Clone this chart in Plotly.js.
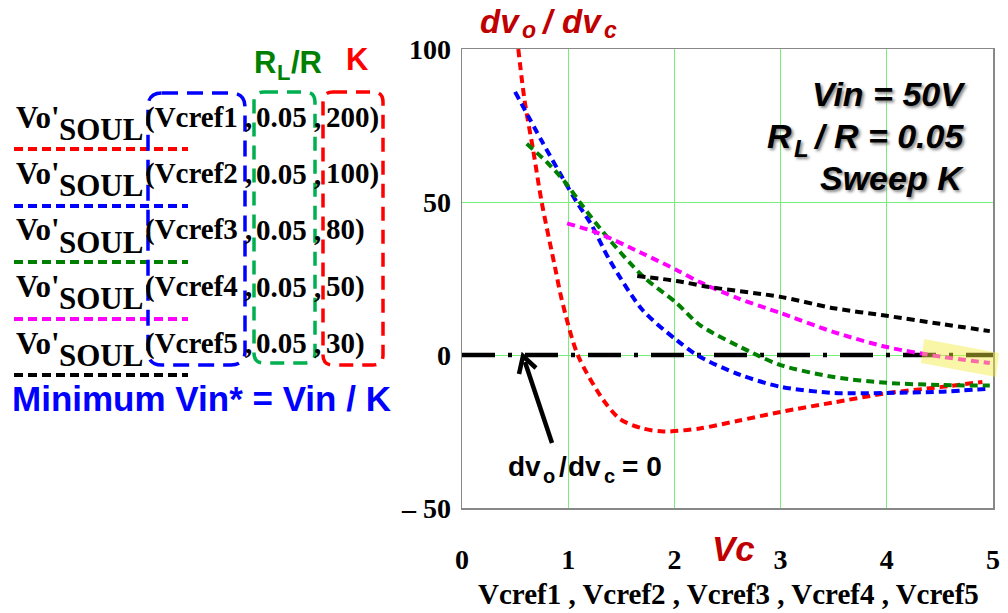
<!DOCTYPE html>
<html><head><meta charset="utf-8">
<script src="https://cdn.plot.ly/plotly-3.0.1.min.js"></script>
<style>body{margin:0;background:#fff}</style>
</head><body><div id="chart" style="width:1008px;height:613px"></div>
<script>
// ---- data ----
const kValues = ["200", "100", "80", "50", "30"];
const vcrefNames = ["Vcref1", "Vcref2", "Vcref3", "Vcref4", "Vcref5"];
const rlRatio = "0.05";
const seriesColors = ["#ff0000", "#0000ff", "#008000", "#ff00ff", "#000000"];

const xK200 = [0.53, 0.59, 0.67, 0.75, 0.875, 0.94, 1.09, 1.33, 1.49, 1.7, 1.9, 2.24, 2.6, 3.0, 3.5, 4.0, 4.5, 4.9];
const yK200 = [100, 83, 67, 50, 28.8, 18, 0, -14.7, -21, -24, -25, -24, -21.5, -18.6, -15.5, -12.5, -10.5, -8.8];
const xK100 = [0.5, 0.75, 0.97, 1.08, 1.22, 1.39, 1.7, 2.02, 2.24, 2.62, 3.0, 3.5, 4.0, 4.5, 4.97];
const yK100 = [86, 70, 56.5, 50, 42.5, 31, 14.7, 4.9, -0.6, -6.5, -10.4, -12.4, -12.4, -12, -11];
const xK80 = [0.61, 0.8, 0.97, 1.14, 1.39, 1.71, 2.02, 2.24, 2.74, 3.0, 3.5, 4.0, 4.5, 4.97];
const yK80 = [69, 63, 56.5, 48.5, 37.6, 25.5, 17, 9.8, 0.6, -3.3, -7.2, -9.1, -9.8, -10];
const xK50 = [0.99, 1.27, 1.71, 2.02, 2.24, 2.6, 3.0, 3.5, 4.0, 4.5, 4.97];
const yK50 = [43, 40, 33, 27.8, 23.8, 18.5, 13.7, 7.5, 2.6, -0.5, -2.6];
const xK30 = [1.65, 2.02, 2.33, 3.0, 3.5, 4.0, 4.5, 4.97];
const yK30 = [25.8, 24.2, 22.2, 19, 15.3, 12.8, 10.2, 7.8];

const zeroLineX = [0, 5];
const zeroLineY = [0, 0];

const xTickVals = [0, 1, 2, 3, 4, 5];
const xTickText = ["0", "1", "2", "3", "4", "5"];
const yTickVals = [-50, 0, 50, 100];
const yTickText = ["– 50", "0", "50", "100"];

// ---- helpers (layout geometry) ----
const L = 462, R = 993, T = 49, B = 508;
const px = v => (v - L) / (R - L);
const py = v => (B - v) / (B - T);
function roundRect(x0, y0, x1, y1, r) {
  const P = (x, y) => px(x) + ',' + py(y);
  return 'M' + P(x0 + r, y0) + ' L' + P(x1 - r, y0) + ' Q' + P(x1, y0) + ' ' + P(x1, y0 + r) +
    ' L' + P(x1, y1 - r) + ' Q' + P(x1, y1) + ' ' + P(x1 - r, y1) +
    ' L' + P(x0 + r, y1) + ' Q' + P(x0, y1) + ' ' + P(x0, y1 - r) +
    ' L' + P(x0, y0 + r) + ' Q' + P(x0, y0) + ' ' + P(x0 + r, y0) + ' Z';
}

const serif = "Liberation Serif, Times New Roman, serif";
const sans = "Liberation Sans, Arial, sans-serif";

const xs = [xK200, xK100, xK80, xK50, xK30];
const ys = [yK200, yK100, yK80, yK50, yK30];

const traces = [{
  x: zeroLineX, y: zeroLineY, mode: 'lines', hoverinfo: 'skip',
  line: {color: '#000', width: 4.5, dash: '33px,13px,4px,13px'}
}];
for (let i = 0; i < 5; i++) {
  traces.push({
    x: xs[i], y: ys[i], mode: 'lines', name: 'K=' + kValues[i],
    line: {color: seriesColors[i], width: 4, dash: '8px,5px', shape: 'spline', smoothing: 0.8}
  });
}

const annotations = [];
const shapes = [];
const rowY = [117, 173.5, 230, 286.5, 343];
const lineY = [149, 206, 262, 319, 375];
function ann(text, x, y, size, opts) {
  annotations.push(Object.assign({
    text: text, xref: 'paper', yref: 'paper', x: px(x), y: py(y),
    xanchor: 'left', yanchor: 'middle', showarrow: false,
    font: {family: serif, size: size, color: '#000', weight: 'bold'}
  }, opts || {}));
}
const F = (family, size, color, extra) => Object.assign({family: family, size: size, color: color, weight: 'bold'}, extra || {});

for (let i = 0; i < 5; i++) {
  ann("Vo'", 14, rowY[i], 31);
  ann("SOUL", 57, rowY[i] + 12, 31);
  ann("(" + vcrefNames[i] + " ,", 143, rowY[i], 29);
  ann(rlRatio + " ,", 254, rowY[i], 29);
  ann(kValues[i] + ")", 324, rowY[i], 29);
  shapes.push({type: 'line', xref: 'paper', yref: 'paper', x0: px(14), x1: px(188), y0: py(lineY[i]), y1: py(lineY[i]),
    line: {color: seriesColors[i], width: 4, dash: '9px,5px'}});
}
// bracket boxes
shapes.push({type: 'path', xref: 'paper', yref: 'paper', path: roundRect(148, 93, 245, 365, 14), line: {color: '#0000ff', width: 3.5, dash: '16px,9px'}});
shapes.push({type: 'path', xref: 'paper', yref: 'paper', path: roundRect(254, 92, 315, 363, 10), line: {color: '#00b050', width: 3.5, dash: '14px,9px'}});
shapes.push({type: 'path', xref: 'paper', yref: 'paper', path: roundRect(323, 92, 383, 365, 10), line: {color: '#ff0000', width: 3.5, dash: '14px,9px'}});
// yellow highlight
shapes.push({type: 'path', xref: 'paper', yref: 'paper', layer: 'above',
  path: 'M' + px(924) + ',' + py(339) + ' L' + px(999) + ',' + py(353) + ' L' + px(996) + ',' + py(377) + ' L' + px(921) + ',' + py(363) + ' Z',
  fillcolor: 'rgba(245,235,60,0.45)', line: {width: 0}});

// R_L / R header (green) and K header (red)
const green = '#008000';
ann("R", 265, 62, 31, {xanchor: 'center', font: F(sans, 31, green)});
ann("L", 283, 72, 22, {xanchor: 'center', font: F(sans, 22, green)});
ann("/R", 306, 62, 31, {xanchor: 'center', font: F(sans, 31, green)});
ann("K", 344, 60, 31, {font: F(sans, 31, '#ff0000')});
ann("Minimum Vin* = Vin / K", 10, 398, 35, {font: F(sans, 35, '#0000ff')});

// y title dvo / dvc
const dred = '#c00000', it = {style: 'italic'};
ann("dv", 500, 22, 33, {xanchor: 'center', font: F(sans, 33, dred, it)});
ann("o", 529, 30, 23, {xanchor: 'center', font: F(sans, 23, dred, it)});
ann("/", 548, 22, 33, {xanchor: 'center', font: F(sans, 33, dred, it)});
ann("dv", 582, 22, 33, {xanchor: 'center', font: F(sans, 33, dred, it)});
ann("c", 610, 30, 23, {xanchor: 'center', font: F(sans, 23, dred, it)});

ann("Vc", 710, 548, 35, {font: F(sans, 35, dred, it)});
ann("Vcref1 , Vcref2 , Vcref3 , Vcref4 , Vcref5", 728, 594, 29, {xanchor: 'center'});

// top-right notes
const sh = {style: 'italic', shadow: '2px 2px 3px #888'};
ann("Vin = 50V", 968, 94, 34, {xanchor: 'right', font: F(sans, 34, '#000', sh)});
ann("R", 779, 136, 34, {xanchor: 'center', font: F(sans, 34, '#000', sh)});
ann("L", 801, 148, 24, {xanchor: 'center', font: F(sans, 24, '#000', sh)});
ann("/ R = 0.05", 966, 136, 34, {xanchor: 'right', font: F(sans, 34, '#000', sh)});
ann("Sweep K", 966, 178, 34, {xanchor: 'right', font: F(sans, 34, '#000', sh)});

// dvo/dvc = 0 label
ann("dv", 524, 466, 28, {xanchor: 'center', font: F(sans, 28, '#000')});
ann("o", 549, 476, 20, {xanchor: 'center', font: F(sans, 20, '#000')});
ann("/", 563, 466, 28, {xanchor: 'center', font: F(sans, 28, '#000')});
ann("dv", 584, 466, 28, {xanchor: 'center', font: F(sans, 28, '#000')});
ann("c", 609, 476, 20, {xanchor: 'center', font: F(sans, 20, '#000')});
ann("= 0", 642, 466, 28, {xanchor: 'center', font: F(sans, 28, '#000')});

// arrow (shaft + open chevron head)
const tip = [523, 356], tail = [552, 443];
shapes.push({type: 'line', xref: 'paper', yref: 'paper', x0: px(tail[0]), y0: py(tail[1]), x1: px(tip[0] + 2), y1: py(tip[1] + 6),
  line: {color: '#000', width: 4.5}});
shapes.push({type: 'path', xref: 'paper', yref: 'paper',
  path: 'M' + px(519) + ',' + py(374) + ' L' + px(tip[0]) + ',' + py(tip[1]) + ' L' + px(536) + ',' + py(368),
  line: {color: '#000', width: 4.5}});

const axisFont = {family: serif, size: 28, color: '#000', weight: 'bold'};
const layout = {
  width: 1008, height: 613, showlegend: false,
  margin: {l: L, r: 1008 - R, t: T, b: 613 - B},
  paper_bgcolor: '#fff', plot_bgcolor: '#fff',
  xaxis: {range: [0, 5], tickvals: xTickVals, ticktext: xTickText, showgrid: true, gridcolor: '#77ee77', gridwidth: 1,
    showline: true, mirror: true, linecolor: '#888', linewidth: 1.5, zeroline: false, ticks: '',
    tickfont: axisFont, ticklabelstandoff: 26},
  yaxis: {range: [-50, 100], tickvals: yTickVals, ticktext: yTickText, showgrid: true, gridcolor: '#77ee77', gridwidth: 1,
    showline: true, mirror: true, linecolor: '#888', linewidth: 1.5, zeroline: false, ticks: '',
    tickfont: axisFont, ticklabelstandoff: 4},
  annotations: annotations, shapes: shapes
};
Plotly.newPlot('chart', traces, layout, {displayModeBar: false, staticPlot: true});
</script></body></html>
